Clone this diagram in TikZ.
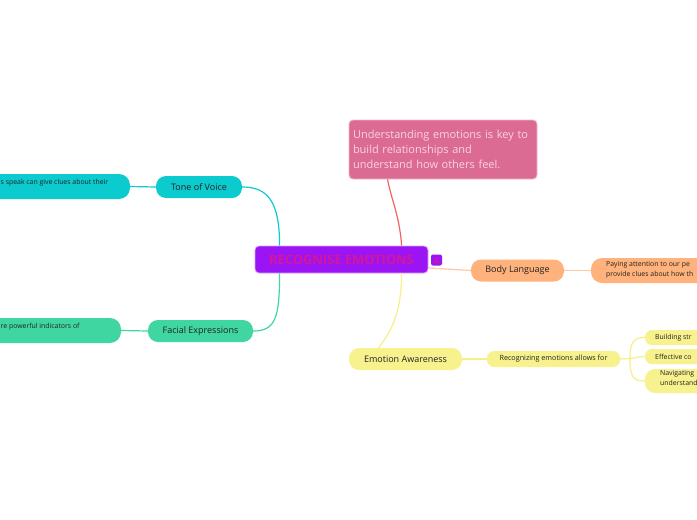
\documentclass[tikz,border=0pt]{standalone}
\usepackage{fontspec}
\setmainfont{Open Sans}
\definecolor{cpurple}{HTML}{9A14F4}
\definecolor{cmag}{HTML}{D4179A}
\definecolor{cnote}{HTML}{DC6B93}
\definecolor{cnotetxt}{HTML}{F9D3E0}
\definecolor{cred}{HTML}{F26462}
\definecolor{ccyan}{HTML}{0BCBCF}
\definecolor{cgreen}{HTML}{40D6A1}
\definecolor{corange}{HTML}{FFB27C}
\definecolor{corangeline}{HTML}{FFC8A2}
\definecolor{cyellow}{HTML}{F8F28E}
\definecolor{cyellowline}{HTML}{F8EE8A}
\definecolor{ctext}{HTML}{222222}
\begin{document}
\begin{tikzpicture}[x=1pt,y=-1pt,
  pill/.style={rectangle,rounded corners=#1,inner sep=0pt,text=ctext},
  big/.style={font=\fontsize{9}{11}\selectfont},
  small/.style={font=\fontsize{6.9}{10}\selectfont,inner sep=0pt,text=ctext,align=left},
  conn/.style={line width=1.2pt}
]
\useasboundingbox (0,0) rectangle (697,520);
\clip (0,0) rectangle (697,520);
\fill[white] (0,0) rectangle (697,520);

% central
\node[pill=4pt,fill=cpurple,draw=cpurple!40!white,line width=0.8pt,minimum width=173pt,minimum height=27pt,
  text=cmag,font=\bfseries\fontsize{12.9}{14}\selectfont] (c) at (341.5,259.5) {RECOGNISE EMOTIONS};
\node[pill=2pt,fill=cpurple,minimum width=11pt,minimum height=11pt] (sq) at (436.5,260) {};
\draw[cmag,line width=0.5pt] (434,258) -- (439,258) (434,260) -- (439,260) (434,262) -- (439,262);

% note
\node[pill=4pt,fill=cnote,draw=cnote!50!white,line width=0.8pt,minimum width=188pt,minimum height=59pt,
  text width=180pt,align=left,text=cnotetxt,font=\fontsize{11}{15}\selectfont] (n) at (443,149.5)
  {Understanding emotions is key to\\build relationships and\\understand how others feel.};

% tone of voice
\node[pill=10pt,fill=ccyan,minimum width=86pt,minimum height=22pt,big] (t) at (199,187) {Tone of Voice};
\node[pill=11pt,fill=ccyan,minimum width=190pt,minimum height=25pt] (tl) at (35,186.5) {};
\node[small,anchor=west] (tlt) at (0.5,182.5) {s speak can give clues about their};

% facial expressions
\node[pill=10pt,fill=cgreen,minimum width=105pt,minimum height=22pt,big] (f) at (200.5,331) {Facial Expressions};
\node[pill=11pt,fill=cgreen,minimum width=190pt,minimum height=25pt] (fl) at (26,330.5) {};
\node[small,anchor=west] (flt) at (0.5,326.5) {re powerful indicators of};

% body language
\node[pill=10pt,fill=corange,minimum width=93pt,minimum height=22pt,big] (b) at (517.5,270.5) {Body Language};
\node[pill=11pt,fill=corange,minimum width=190pt,minimum height=25pt] (bl) at (686,270.5) {};
\node[small,anchor=north west] (blt) at (606,261.5) {Paying attention to our pe\\provide clues about how th};

% emotion awareness
\node[pill=10pt,fill=cyellow,minimum width=113pt,minimum height=22pt,big] (e) at (405.5,359) {Emotion Awareness};
\node[pill=7pt,fill=cyellow,minimum width=133pt,minimum height=16pt,font=\fontsize{7.2}{8}\selectfont] (r) at (553.5,359) {Recognizing emotions allows for};
\node[pill=7pt,fill=cyellow,minimum width=120pt,minimum height=15pt] (b1) at (705,337.5) {};
\node[small,anchor=west] (b1t) at (655,337.5) {Building str};
\node[pill=7pt,fill=cyellow,minimum width=120pt,minimum height=15pt] (b2) at (705,356.5) {};
\node[small,anchor=west] (b2t) at (655,356.5) {Effective co};
\node[pill=10pt,fill=cyellow,minimum width=120pt,minimum height=24pt] (b3) at (705,381) {};
\node[small,anchor=north west] (b3t) at (660,370.5) {Navigating\\understand};

% connectors
\draw[conn,ccyan] ([xshift=25pt]c.north west) .. controls +(0,-45) and +(25,0) .. (t.east);
\draw[conn,cgreen] ([xshift=25pt]c.south west) .. controls +(0,45) and +(22,0) .. (f.east);
\draw[conn,cred] ([xshift=147pt]c.north west) .. controls +(-2,-30) and +(3,18) .. ([xshift=39pt]n.south west);
\draw[conn,cyellowline] ([xshift=147pt]c.south west) .. controls +(0,40) and +(12,-15) .. ([xshift=-27pt]e.north);
\draw[conn,corangeline] ([yshift=-8.5pt]c.east) -- (b.west);
\draw[conn,ccyan] (tl.east) -- (t.west);
\draw[conn,cgreen] (fl.east) -- (f.west);
\draw[conn,corangeline] (b.east) -- (bl.west);
\draw[conn,cyellowline] (e.east) -- (r.west);
\coordinate (fork) at (630,358.5);
\draw[conn,cyellowline] (r.east) -- (fork);
\draw[conn,cyellowline] (fork) .. controls +(0,-15) and +(-12,0) .. (b1.west);
\draw[conn,cyellowline] (fork) .. controls +(5,0) and +(-8,0) .. (b2.west);
\draw[conn,cyellowline] (fork) .. controls +(0,18) and +(-12,0) .. (b3.west);
\end{tikzpicture}
\end{document}
